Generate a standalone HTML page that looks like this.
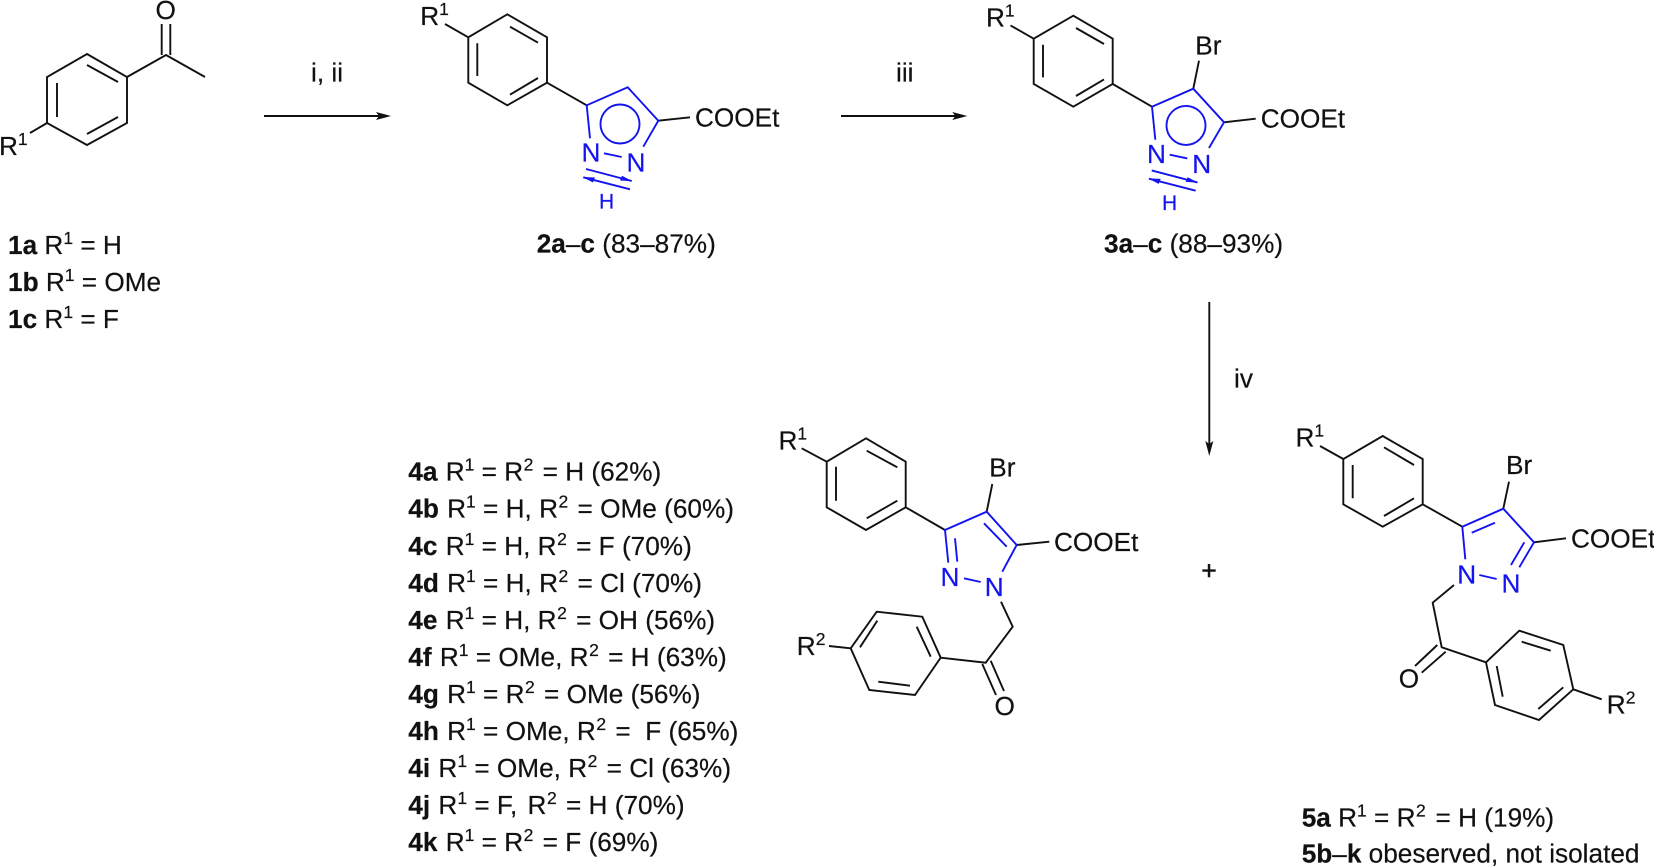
<!DOCTYPE html>
<html><head><meta charset="utf-8"><style>
html,body{margin:0;padding:0;background:#fff}
svg{display:block;filter:blur(0.35px)}
text{font-family:"Liberation Sans",Arial,sans-serif;font-size:26.2px;fill:#111;stroke:#111;stroke-width:.2;white-space:pre}
.s{font-size:17.500px}
.b{font-weight:bold}
.bl{fill:#1414f0;stroke:#1414f0}
.h{font-size:21px}
.k{fill:none;stroke:#111;stroke-width:1.9}
.u{fill:none;stroke:#1414f0;stroke-width:1.9}
</style></head><body>
<svg width="1654" height="868" viewBox="0 0 1654 868" xmlns="http://www.w3.org/2000/svg">
<!-- Mol 1 -->
<g class="k">
<path d="M87 54L127 77V123L87 145L47 123V77Z"/>
<path d="M87 65L118 82M57 83V117M87 134L118 117"/>
<path d="M127 77L166 55L205 77M47 123L30 133M161.700 55V24M170.300 55V24"/>
</g>
<text x="155.500" y="19">O</text>
<text x="-1" y="155">R<tspan class="s" dy="-10">1</tspan></text>
<text x="8" y="254"><tspan class="b">1a</tspan> R<tspan class="s" dy="-10">1</tspan><tspan dy="10"> = H</tspan></text>
<text x="8" y="291"><tspan class="b">1b</tspan> R<tspan class="s" dy="-10">1</tspan><tspan dy="10"> = OMe</tspan></text>
<text x="8" y="328"><tspan class="b">1c</tspan> R<tspan class="s" dy="-10">1</tspan><tspan dy="10"> = F</tspan></text>
<!-- Arrow 1 -->
<path class="k" d="M264 116H380"/><path d="M391 116L376 112L379 116L376 120Z" fill="#111"/>
<text x="311" y="81.500">i, ii</text>
<!-- Mol 2 -->
<g class="k">
<path d="M507.300 14.300L547 37.300V82.700L507.300 105.300L468.300 82.700V37.300Z"/>
<path d="M510 26.700L538 42.700M477.300 43.300V76M510 94.700L538 78"/>
<path d="M445 24L468.300 37.300M547 82.700L586.700 105.300M658.300 120.700L690 117.300"/>
</g>
<g class="u">
<path d="M590 138.300L586.700 105.300L627.700 87.300L658.300 120.700L643.300 146.700M604 153.300L621.700 157"/>
<circle cx="620" cy="124" r="19.500"/>
<path d="M586 169L631.700 181M583.300 177.300L630 189.300"/>
</g>
<path d="M632.500 181.200L620 180.500L622 175.800Z M582.500 177L595 177.500L593 182.500Z" fill="#1414f0"/>
<text x="420.200" y="25">R<tspan class="s" dy="-10">1</tspan></text>
<text class="bl" x="581.500" y="161.500">N</text>
<text class="bl" x="626.500" y="171.500">N</text>
<text class="bl h" x="599" y="208.500">H</text>
<text x="695" y="126.700">COOEt</text>
<text x="536.700" y="252.500"><tspan class="b">2a</tspan>–<tspan class="b">c</tspan> (83–87%)</text>
<!-- Arrow 2 -->
<path class="k" d="M841 116H956"/><path d="M967.300 116L952.300 112L955.300 116L952.300 120Z" fill="#111"/>
<text x="896" y="81.500">iii</text>
<!-- Mol 3 -->
<g class="k">
<path d="M1073.300 15.700L1112.700 38.700V84L1073.300 106.700L1033.700 84V38.700Z"/>
<path d="M1076 28L1104 44M1043 44.700V77.400M1076 96L1104 79.400"/>
<path d="M1010.500 25.400L1033.700 38.700M1112.700 84L1152 106.700M1224 122.300L1255.700 118.700M1193.300 88.700L1199 60.700"/>
</g>
<g class="u">
<path d="M1155.300 139.700L1152 106.700L1193.300 88.700L1224 122.300L1209 148M1169.700 154.700L1187.300 158.400"/>
<circle cx="1186" cy="125.400" r="19.500"/>
<path d="M1151.700 170.400L1197.400 182.400M1149 178.700L1195.700 190.700"/>
</g>
<path d="M1198.200 182.600L1185.700 181.900L1187.700 177.200Z M1148.200 178.400L1160.700 178.900L1158.700 183.900Z" fill="#1414f0"/>
<text x="986" y="26.400">R<tspan class="s" dy="-10">1</tspan></text>
<text x="1195.300" y="54.300">Br</text>
<text class="bl" x="1147" y="162.900">N</text>
<text class="bl" x="1192.200" y="172.900">N</text>
<text class="bl h" x="1162" y="209.900">H</text>
<text x="1260.700" y="127.700">COOEt</text>
<text x="1104" y="252.500"><tspan class="b">3a</tspan>–<tspan class="b">c</tspan> (88–93%)</text>
<!-- Arrow 3 -->
<path class="k" d="M1209.300 302V445"/><path d="M1209.300 456L1205.300 441L1209.300 444L1213.300 441Z" fill="#111"/>
<text x="1234" y="387.700">iv</text>
<!-- List 4 -->
<text x="408.300" y="480.700"><tspan class="b">4a</tspan><tspan dx="1"> R</tspan><tspan class="s" dy="-10">1</tspan><tspan dy="10"> = R</tspan><tspan class="s" dy="-10" dx=".5">2</tspan><tspan dy="10" dx="2"> = H (62%)</tspan></text>
<text x="408.300" y="517.700"><tspan class="b">4b</tspan><tspan dx="1"> R</tspan><tspan class="s" dy="-10">1</tspan><tspan dy="10"> = H, R</tspan><tspan class="s" dy="-10" dx=".5">2</tspan><tspan dy="10" dx="2"> = OMe (60%)</tspan></text>
<text x="408.300" y="554.800"><tspan class="b">4c</tspan><tspan dx="1"> R</tspan><tspan class="s" dy="-10">1</tspan><tspan dy="10"> = H, R</tspan><tspan class="s" dy="-10" dx=".5">2</tspan><tspan dy="10" dx="2"> = F (70%)</tspan></text>
<text x="408.300" y="591.800"><tspan class="b">4d</tspan><tspan dx="1"> R</tspan><tspan class="s" dy="-10">1</tspan><tspan dy="10"> = H, R</tspan><tspan class="s" dy="-10" dx=".5">2</tspan><tspan dy="10" dx="2"> = Cl (70%)</tspan></text>
<text x="408.300" y="628.800"><tspan class="b">4e</tspan><tspan dx="1"> R</tspan><tspan class="s" dy="-10">1</tspan><tspan dy="10"> = H, R</tspan><tspan class="s" dy="-10" dx=".5">2</tspan><tspan dy="10" dx="2"> = OH (56%)</tspan></text>
<text x="408.300" y="665.900"><tspan class="b">4f</tspan><tspan dx="1"> R</tspan><tspan class="s" dy="-10">1</tspan><tspan dy="10"> = OMe, R</tspan><tspan class="s" dy="-10" dx=".5">2</tspan><tspan dy="10" dx="2"> = H (63%)</tspan></text>
<text x="408.300" y="702.900"><tspan class="b">4g</tspan><tspan dx="1"> R</tspan><tspan class="s" dy="-10">1</tspan><tspan dy="10"> = R</tspan><tspan class="s" dy="-10" dx=".5">2</tspan><tspan dy="10" dx="2"> = OMe (56%)</tspan></text>
<text x="408.300" y="739.900"><tspan class="b">4h</tspan><tspan dx="1"> R</tspan><tspan class="s" dy="-10">1</tspan><tspan dy="10"> = OMe, R</tspan><tspan class="s" dy="-10" dx=".5">2</tspan><tspan dy="10" dx="2"> =  F (65%)</tspan></text>
<text x="408.300" y="777"><tspan class="b">4i</tspan><tspan dx="1"> R</tspan><tspan class="s" dy="-10">1</tspan><tspan dy="10"> = OMe, R</tspan><tspan class="s" dy="-10" dx=".5">2</tspan><tspan dy="10" dx="2"> = Cl (63%)</tspan></text>
<text x="408.300" y="814"><tspan class="b">4j</tspan><tspan dx="1"> R</tspan><tspan class="s" dy="-10">1</tspan><tspan dy="10"> = F,</tspan><tspan dx="3"> R</tspan><tspan class="s" dy="-10" dx=".5">2</tspan><tspan dy="10" dx="2"> = H (70%)</tspan></text>
<text x="408.300" y="851"><tspan class="b">4k</tspan><tspan dx="1"> R</tspan><tspan class="s" dy="-10">1</tspan><tspan dy="10"> = R</tspan><tspan class="s" dy="-10" dx=".5">2</tspan><tspan dy="10" dx="2"> = F (69%)</tspan></text>
<!-- Mol 4 -->
<g class="k">
<path d="M866 438.300L905.700 461.700V507.300L866 530L826.700 507.300V461.700Z"/>
<path d="M866.700 450.700L897.300 467.300M836 466.700V500.700M866.700 518.300L897.300 500.700"/>
<path d="M801.700 448.300L826.700 461.700M905.700 507.300L945 530M986.700 511.700L992.300 484M1016.700 545L1049.300 541.700"/>
<path d="M1001 601.700L1012.700 626.700L985.700 662.700L940.700 657.700M982.300 664L996 695M990.700 660.700L1004 691"/>
<path d="M940.700 657.700L922.300 616.700L876.700 611.700L850.700 648.300L869.300 690L915 695Z"/>
<path d="M916.700 626.700L930.700 656.700M877.300 620.700L860 647.300M878.300 681.700L910 685.700M829 646L850.700 648.300"/>
</g>
<g class="u">
<path d="M948.300 562.700L945 530L986.700 511.700L1016.700 545L1002.300 571.700M955 538.300L957.300 561.700M984 523.300L1006.700 546.700M964 578.300L980.700 582"/>
</g>
<text x="778.500" y="449.300">R<tspan class="s" dy="-10">1</tspan></text>
<text x="989.300" y="476.700">Br</text>
<text x="1054" y="551">COOEt</text>
<text class="bl" x="940.500" y="586">N</text>
<text class="bl" x="984.800" y="596">N</text>
<text x="796.800" y="655">R<tspan class="s" dy="-10">2</tspan></text>
<text x="994.500" y="715">O</text>
<text x="1201.400" y="579.700" style="stroke-width:.6">+</text>
<!-- Mol 5 -->
<g class="k">
<path d="M1382.700 436L1422.700 459V504.300L1382.700 526.700L1343.300 504.300V459Z"/>
<path d="M1384 447.300L1414 465M1352.700 465V498.300M1384 516L1414 498.300"/>
<path d="M1320 446L1343.300 459M1422.700 504.300L1462.300 526.700M1503.300 508.700L1509 481.700M1534 542.300L1566 538.300"/>
<path d="M1454 585L1432.700 602.700L1441.700 647.300L1486 662.300M1437.300 645L1415 666M1445.700 651.700L1421.700 672.700"/>
<path d="M1486 662.300L1519.300 630.700L1563.300 645L1573.300 689.300L1539 720L1495 705Z"/>
<path d="M1521.700 641.700L1550.700 650.700M1496.700 666L1502.700 696.700M1538.300 709L1563.300 687.300M1573.300 689.300L1601.700 699.300"/>
</g>
<g class="u">
<path d="M1465.300 559.300L1462.300 526.700L1503.300 508.700L1534 542.300L1519.300 567.300M1471.700 532.700L1495 522.700M1524.300 542.300L1511 565M1479.300 575L1496.700 579"/>
</g>
<text x="1295.500" y="446.700">R<tspan class="s" dy="-10">1</tspan></text>
<text x="1506" y="474">Br</text>
<text x="1571" y="547.300">COOEt</text>
<text class="bl" x="1457.200" y="583.300">N</text>
<text class="bl" x="1501.500" y="592.600">N</text>
<text x="1398.800" y="687.300">O</text>
<text x="1606.800" y="713.300">R<tspan class="s" dy="-10">2</tspan></text>
<text x="1301.700" y="826.700"><tspan class="b">5a</tspan> R<tspan class="s" dy="-10">1</tspan><tspan dy="10"> = R</tspan><tspan class="s" dy="-10" dx=".5">2</tspan><tspan dy="10" dx="2.500"> = H (19%)</tspan></text>
<text x="1301.700" y="862.700"><tspan class="b">5b</tspan>–<tspan class="b">k</tspan> obeserved, not isolated</text>
</svg>
</body></html>
